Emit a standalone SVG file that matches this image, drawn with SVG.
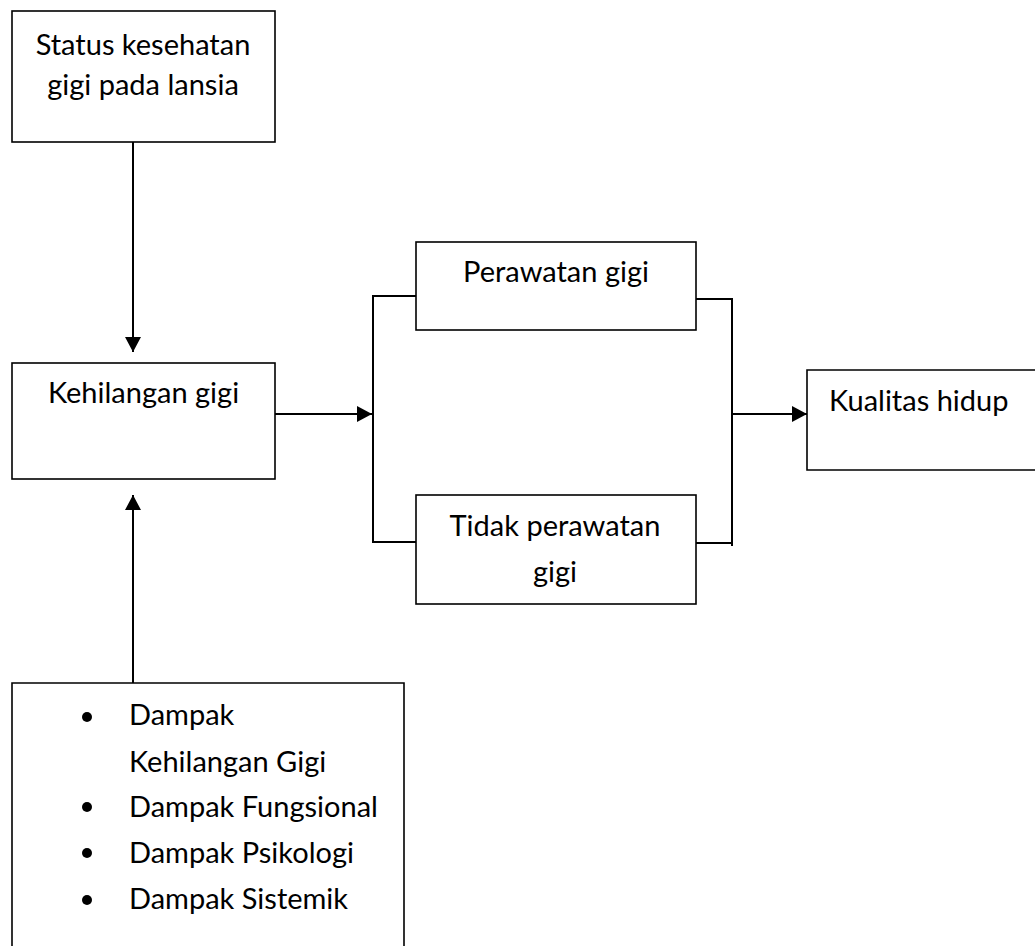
<svg xmlns="http://www.w3.org/2000/svg" width="1035" height="946" viewBox="0 0 1035 946">
<style>
.box{fill:#fff;stroke:#000;stroke-width:1.6}
.ln{fill:none;stroke:#000;stroke-width:2}
text{font-family:Lato,"Open Sans",sans-serif;font-size:29px;fill:#000}
.c{text-anchor:middle}
</style>
<defs>
<marker id="ah" markerWidth="10" markerHeight="10" refX="10" refY="5" orient="auto" markerUnits="userSpaceOnUse" viewBox="0 0 10 10">
<path d="M0,0 L10,5 L0,10 Z" fill="#000"/>
</marker>
<marker id="ahb" markerWidth="15" markerHeight="16" refX="15" refY="8" orient="auto" markerUnits="userSpaceOnUse" viewBox="0 0 15 16">
<path d="M0,0 L15,8 L0,16 Z" fill="#000"/>
</marker>
</defs>
<rect width="1035" height="946" fill="#fff"/>
<g id="connectors">
<line class="ln" x1="133" y1="142" x2="133" y2="352" marker-end="url(#ahb)"/>
<line class="ln" x1="133" y1="683" x2="133" y2="495" marker-end="url(#ahb)"/>
<line class="ln" x1="275" y1="414" x2="372" y2="414" marker-end="url(#ahb)"/>
<polyline class="ln" points="416,296 373,296 373,542 416,542"/>
<polyline class="ln" points="696,299 732,299 732,546"/>
<line class="ln" x1="696" y1="543" x2="732" y2="543"/>
<line class="ln" x1="732" y1="414" x2="807" y2="414" marker-end="url(#ahb)"/>
</g>
<g id="status">
<rect class="box" x="12" y="11" width="263" height="131"/>
<text class="c" x="143" y="55">Status kesehatan</text>
<text class="c" x="143" y="95">gigi pada lansia</text>
</g>
<g id="kehilangan">
<rect class="box" x="12" y="363" width="263" height="116"/>
<text class="c" x="143.5" y="403">Kehilangan gigi</text>
</g>
<g id="perawatan">
<rect class="box" x="416" y="242" width="280" height="88"/>
<text class="c" x="556" y="282">Perawatan gigi</text>
</g>
<g id="tidak">
<rect class="box" x="416" y="495" width="280" height="109"/>
<text class="c" x="555" y="536">Tidak perawatan</text>
<text class="c" x="555" y="582">gigi</text>
</g>
<g id="kualitas">
<path class="box" d="M1040,370 L807,370 L807,470 L1040,470"/>
<text x="829" y="411">Kualitas hidup</text>
</g>
<g id="dampak">
<path class="box" d="M12,950 L12,683 L404,683 L404,950"/>
<circle cx="87" cy="717" r="5"/>
<circle cx="87" cy="807" r="5"/>
<circle cx="87" cy="853" r="5"/>
<circle cx="87" cy="900" r="5"/>
<text x="129" y="725">Dampak</text>
<text x="129" y="772">Kehilangan Gigi</text>
<text x="129" y="817">Dampak Fungsional</text>
<text x="129" y="863">Dampak Psikologi</text>
<text x="129" y="909">Dampak Sistemik</text>
</g>
</svg>
